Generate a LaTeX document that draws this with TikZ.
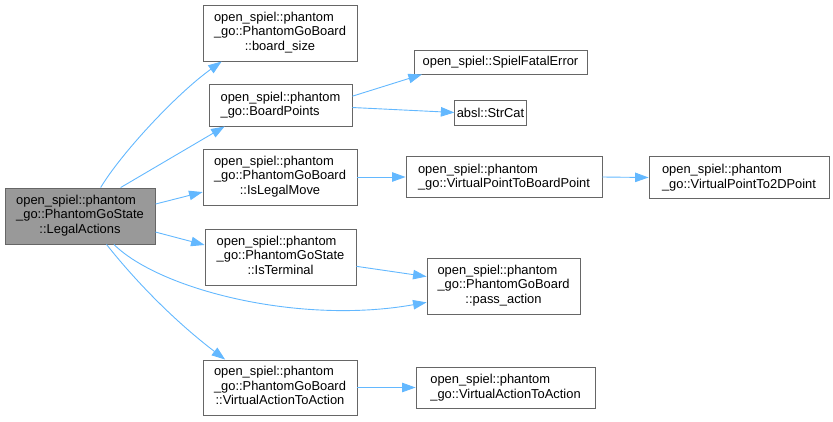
\documentclass[tikz,border=0pt]{standalone}
\usepackage{fontspec}
\setmainfont{Liberation Sans}
\usepackage{xcolor}
\usetikzlibrary{arrows.meta}
\definecolor{callblue}{HTML}{63B8FF}
\definecolor{boxgray}{HTML}{666666}
\definecolor{rootgray}{HTML}{999999}
% three lines: first two left aligned, last one centred
\newcommand{\threeline}[3]{\begin{tabular}{@{}l@{}}#1\\#2\\\multicolumn{1}{@{}c@{}}{#3}\end{tabular}}

\begin{document}
\begin{tikzpicture}[x=1pt, y=-1pt,
    every node/.style={rectangle, draw=boxgray, line width=0.9pt, align=left,
                       inner sep=2pt, font=\fontsize{12.9}{14.5}\selectfont},
    call/.style={->, draw=callblue, line width=0.9pt},
  ]
\tikzset{>={Triangle[length=13.5pt, width=9.5pt, fill=callblue]}}
  \useasboundingbox (0,0) rectangle (833,421);

  \node[fill=rootgray, minimum width=150pt, minimum height=56pt] (legal) at (80,216)
    {\threeline{open\_spiel::phantom}{\_go::PhantomGoState}{::LegalActions}};
  \node[minimum width=154pt, minimum height=56pt] (bsize) at (280,33)
    {\threeline{open\_spiel::phantom}{\_go::PhantomGoBoard}{::board\_size}};
  \node[minimum width=143pt, minimum height=42pt] (bpoints) at (280.5,105)
    {open\_spiel::phantom\\\_go::BoardPoints};
  \node[minimum width=173pt, minimum height=24pt] (fatal) at (500.5,62)
    {open\_spiel::SpielFatalError};
  \node[minimum width=65pt, minimum height=25pt] (strcat) at (490.5,112.5)
    {absl::StrCat};
  \node[minimum width=154pt, minimum height=56pt] (legalmove) at (280,177)
    {\threeline{open\_spiel::phantom}{\_go::PhantomGoBoard}{::IsLegalMove}};
  \node[minimum width=196pt, minimum height=41pt] (vptbp) at (504,177)
    {open\_spiel::phantom\\\_go::VirtualPointToBoardPoint};
  \node[minimum width=180pt, minimum height=42pt] (vpt2d) at (739,177.5)
    {open\_spiel::phantom\\\_go::VirtualPointTo2DPoint};
  \node[minimum width=151pt, minimum height=56pt] (terminal) at (280.5,257)
    {\threeline{open\_spiel::phantom}{\_go::PhantomGoState}{::IsTerminal}};
  \node[minimum width=153pt, minimum height=56pt] (pass) at (503.5,286)
    {\threeline{open\_spiel::phantom}{\_go::PhantomGoBoard}{::pass\_action}};
  \node[minimum width=154pt, minimum height=55pt] (vataboard) at (280,387.5)
    {\threeline{open\_spiel::phantom}{\_go::PhantomGoBoard}{::VirtualActionToAction}};
  \node[minimum width=179pt, minimum height=41pt] (vata) at (505.5,387.5)
    {open\_spiel::phantom\\\_go::VirtualActionToAction};

  \draw[call] (legal.54) .. controls (120,155) and (175,95) .. (bsize.206);
  \draw[call] (legal.35) -- (bpoints.201);
  \draw[call] (legal.9) -- (legalmove.191);
  \draw[call] (legal.-12) -- (terminal.171);
  \draw[call] (legal.-40) .. controls (160,290) and (300,325) .. (pass.192);
  \draw[call] (legal.-47) .. controls (141,288) and (181,326) .. (vataboard.153);
  \draw[call] (bpoints.7) -- (fatal.189);
  \draw[call] (bpoints.-2) -- (strcat.west);
  \draw[call] (legalmove.east) -- (vptbp.west);
  \draw[call] (vptbp.east) -- (vpt2d.west);
  \draw[call] (terminal.-7) -- (pass.173);
  \draw[call] (vataboard.east) -- (vata.west);
\end{tikzpicture}
\end{document}
